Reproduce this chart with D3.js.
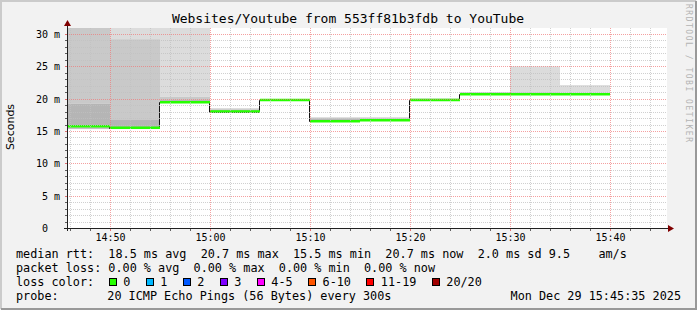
<!DOCTYPE html>
<html>
<head>
<meta charset="utf-8">
<script src="https://cdn.jsdelivr.net/npm/d3@7"></script>
<style>
  html, body { margin: 0; padding: 0; background: #f2f2f2; }
  svg { display: block; }
  svg text { font-family: "DejaVu Sans Mono", monospace; white-space: pre; fill: #000; }
</style>
</head>
<body>
<div id="canvas"></div>
<script>
  // step end times, 5 minute steps
  var stepEnds = ["14:50","14:55","15:00","15:05","15:10","15:15","15:20","15:25","15:30","15:35","15:40"];

  // median rtt per step (ms)
  var median = [15.75, 15.5, 19.45, 18.0, 19.8, 16.5, 16.65, 19.8, 20.7, 20.7, 20.7];

  // smoke bands [low, high] in ms, darkest to lightest (null = none)
  var smokeLow   = [[15.3, 15.75], null, null, null, null, null, null, null, null, null, null];
  var smokeDark  = [[15.75, 19.2], [15.5, 16.7], [19.45, 19.9], [18.0, 18.3], [19.8, 19.95],
                    [16.5, 16.85], [16.65, 16.9], [19.8, 20.0], [20.7, 20.9], [20.7, 20.95], [20.7, 20.8]];
  var smokeMid   = [[19.2, 31], [16.7, 29.2], [19.9, 20.3], [18.3, 18.5], null,
                    [16.85, 17.1], [16.9, 17.1], null, [20.9, 21.0], null, null];
  var smokeLight = [null, [29.2, 31], [20.3, 31], null, null, null, null, null, null, [20.95, 25.0], [20.8, 22.1]];

  // axis ticks
  var yTicks = [0, 5, 10, 15, 20, 25, 30];
  var xTicks = ["14:50","15:00","15:10","15:20","15:30","15:40"];

  // legend
  var rttLine   = "median rtt:  18.5 ms avg  20.7 ms max  15.5 ms min  20.7 ms now  2.0 ms sd 9.5    am/s";
  var lossLine  = "packet loss: 0.00 % avg  0.00 % max  0.00 % min  0.00 % now";
  var lossLabels = ["0", "1", "2", "3", "4-5", "6-10", "11-19", "20/20"];
  var lossColors = ["#26ff00", "#00b8ff", "#0059ff", "#7e00ff", "#ff00ff", "#ff5500", "#ff0000", "#a10000"];
  var probeText = "20 ICMP Echo Pings (56 Bytes) every 300s";
  var stampText = "Mon Dec 29 15:45:35 2025";

  var W = 697, H = 310;
  var day = "2025-12-29 ";
  var parseT = d3.timeParse("%Y-%m-%d %H:%M:%S");
  var parseM = function(s) { return parseT(day + s + ":00"); };

  var x = d3.scaleTime()
    .domain([parseT(day + "14:45:42"), parseT(day + "15:45:42")])
    .range([67, 667]);
  var y = d3.scaleLinear().domain([0, 30.93]).range([228, 28]);

  var svg = d3.select("#canvas").append("svg")
    .attr("width", W)
    .attr("height", H);

  // background + frame
  svg.append("rect").attr("width", W).attr("height", H).attr("fill", "#f2f2f2");
  svg.append("path").attr("d", "M1,309 V1 H696").attr("fill", "none")
    .attr("stroke", "#cbcbcb").attr("stroke-width", 2);
  svg.append("path").attr("d", "M1,309 H696 V1").attr("fill", "none")
    .attr("stroke", "#999999").attr("stroke-width", 2);

  // plot canvas
  var x0 = x.range()[0], x1 = x.range()[1], yb = y.range()[0], yt = y.range()[1];
  svg.append("rect")
    .attr("x", x0).attr("y", yt)
    .attr("width", x1 - x0).attr("height", yb - yt)
    .attr("fill", "#ffffff");

  svg.append("clipPath").attr("id", "plotclip")
    .append("rect").attr("x", x0).attr("y", yt).attr("width", x1 - x0).attr("height", yb - yt);

  var steps = stepEnds.map(function(s, i) {
    var end = parseM(s);
    var start = d3.timeMinute.offset(end, -5);
    if (start < x.domain()[0]) start = x.domain()[0];
    return { i: i, start: start, end: end };
  });

  // smoke
  var plot = svg.append("g").attr("clip-path", "url(#plotclip)");
  function drawSmoke(bands, color) {
    plot.selectAll(null)
      .data(steps.filter(function(d) { return bands[d.i]; }))
      .enter().append("rect")
        .attr("x", function(d) { return x(d.start); })
        .attr("width", function(d) { return x(d.end) - x(d.start); })
        .attr("y", function(d) { return y(bands[d.i][1]); })
        .attr("height", function(d) { return y(bands[d.i][0]) - y(bands[d.i][1]); })
        .attr("fill", color);
  }
  drawSmoke(smokeLight, "#dcdcdc");
  drawSmoke(smokeMid, "#c9c9c9");
  drawSmoke(smokeDark, "#b5b5b5");
  drawSmoke(smokeLow, "#c2c2c2");

  // grid
  var grid = svg.append("g").attr("shape-rendering", "crispEdges");
  var minorY = d3.range(1, 31).filter(function(v) { return v % 5 !== 0; });
  var majorY = yTicks.filter(function(v) { return v > 0; });
  var minorX = d3.timeMinute.every(2).range(x.domain()[0], x.domain()[1])
    .filter(function(d) { return d.getMinutes() % 10 !== 0; });
  var majorX = xTicks.map(parseM);

  grid.selectAll(".hminor").data(minorY).enter().append("line")
    .attr("x1", x0).attr("x2", x1)
    .attr("y1", function(d) { return Math.round(y(d)) + 0.5; })
    .attr("y2", function(d) { return Math.round(y(d)) + 0.5; })
    .attr("stroke", "rgba(192,192,192,0.75)").attr("stroke-dasharray", "1,1");
  grid.selectAll(".vminor").data(minorX).enter().append("line")
    .attr("y1", yt).attr("y2", yb)
    .attr("x1", function(d) { return Math.round(x(d)) + 0.5; })
    .attr("x2", function(d) { return Math.round(x(d)) + 0.5; })
    .attr("stroke", "rgba(192,192,192,0.75)").attr("stroke-dasharray", "1,1");
  grid.selectAll(".hmajor").data(majorY).enter().append("line")
    .attr("x1", x0).attr("x2", x1)
    .attr("y1", function(d) { return Math.round(y(d)) + 0.5; })
    .attr("y2", function(d) { return Math.round(y(d)) + 0.5; })
    .attr("stroke", "rgba(240,120,120,0.7)").attr("stroke-dasharray", "1,1");
  grid.selectAll(".vmajor").data(majorX).enter().append("line")
    .attr("y1", yt).attr("y2", yb)
    .attr("x1", function(d) { return Math.round(x(d)) + 0.5; })
    .attr("x2", function(d) { return Math.round(x(d)) + 0.5; })
    .attr("stroke", "rgba(240,120,120,0.7)").attr("stroke-dasharray", "1,1");

  // median step line (dark) then loss coloured horizontals
  var stepPts = [];
  steps.forEach(function(d) {
    stepPts.push([Math.round(x(d.start)) - 0.5, Math.round(y(median[d.i])) + 0.5]);
    stepPts.push([Math.round(x(d.end)) - 0.5, Math.round(y(median[d.i])) + 0.5]);
  });
  plot.append("path")
    .attr("d", d3.line()(stepPts))
    .attr("fill", "none").attr("stroke", "#111111").attr("stroke-width", 1);
  plot.selectAll(".med").data(steps).enter().append("line")
    .attr("x1", function(d) { return x(d.start); })
    .attr("x2", function(d) { return x(d.end); })
    .attr("y1", function(d) { return y(median[d.i]); })
    .attr("y2", function(d) { return y(median[d.i]); })
    .attr("stroke", lossColors[0]).attr("stroke-width", 2.5);

  // axes
  var ax = svg.append("g").attr("shape-rendering", "crispEdges");
  ax.append("line").attr("x1", x0 - 3).attr("x2", x1 + 1).attr("y1", yb + 0.5).attr("y2", yb + 0.5)
    .attr("stroke", "#202020");
  ax.append("line").attr("x1", x0 + 0.5).attr("x2", x0 + 0.5).attr("y1", yb + 3).attr("y2", yt - 2)
    .attr("stroke", "#202020");
  // small ticks
  ax.selectAll(".yt").data(minorY.concat(majorY)).enter().append("line")
    .attr("x1", x0 - 2).attr("x2", x0)
    .attr("y1", function(d) { return Math.round(y(d)) + 0.5; })
    .attr("y2", function(d) { return Math.round(y(d)) + 0.5; })
    .attr("stroke", function(d) { return d % 5 === 0 ? "#e07070" : "#606060"; });
  ax.selectAll(".xt").data(minorX.concat(majorX)).enter().append("line")
    .attr("y1", yb + 1).attr("y2", yb + 3)
    .attr("x1", function(d) { return Math.round(x(d)) + 0.5; })
    .attr("x2", function(d) { return Math.round(x(d)) + 0.5; })
    .attr("stroke", function(d) { return d.getMinutes() % 10 === 0 ? "#e07070" : "#606060"; });
  // arrows
  svg.append("path").attr("d", "M" + (x0 - 3) + "," + (yt - 2) + " L" + (x0 + 4) + "," + (yt - 2) + " L" + (x0 + 0.5) + "," + (yt - 8) + "Z")
    .attr("fill", "#800000");
  svg.append("path").attr("d", "M" + (x1 + 1) + "," + (yb - 3) + " L" + (x1 + 1) + "," + (yb + 4) + " L" + (x1 + 7) + "," + (yb + 0.5) + "Z")
    .attr("fill", "#800000");

  // tick labels
  var yAxis = d3.axisLeft(y).tickValues(yTicks).tickSize(0).tickPadding(0)
    .tickFormat(function(d) { return d === 0 ? "0  " : d + " m"; });
  var gy = svg.append("g").attr("transform", "translate(" + (x0 - 7) + ",0)").call(yAxis);
  gy.select(".domain").remove();
  gy.selectAll("text").attr("font-family", "DejaVu Sans Mono").attr("font-size", "10px")
    .attr("dy", "0.35em").style("fill", "#000");

  var xAxis = d3.axisBottom(x).tickValues(majorX).tickSize(0).tickPadding(0)
    .tickFormat(d3.timeFormat("%H:%M"));
  var gx = svg.append("g").attr("transform", "translate(0," + (yb + 13) + ")").call(xAxis);
  gx.select(".domain").remove();
  gx.selectAll("text").attr("font-family", "DejaVu Sans Mono").attr("font-size", "10px")
    .attr("dy", "0").style("fill", "#000");

  // title
  svg.append("text")
    .attr("x", 348).attr("y", 23)
    .attr("text-anchor", "middle")
    .attr("font-size", "13px")
    .text("Websites/Youtube from 553ff81b3fdb to YouTube");

  // y label
  svg.append("text")
    .attr("transform", "translate(14,127) rotate(-90)")
    .attr("text-anchor", "middle")
    .style("font-family", "'DejaVu Sans', sans-serif")
    .attr("font-size", "11px")
    .text("Seconds");

  // watermark
  svg.append("text")
    .attr("transform", "translate(686,4) rotate(90)")
    .attr("font-size", "8px")
    .attr("textLength", 138)
    .style("fill", "#b4b4b4")
    .text("RRDTOOL / TOBI OETIKER");

  // legend
  var lg = svg.append("g").attr("font-size", "11.8px");
  lg.append("text").attr("x", 16).attr("y", 258).text(rttLine);
  lg.append("text").attr("x", 16).attr("y", 272).text(lossLine);
  lg.append("text").attr("x", 16).attr("y", 286).text("loss color:");
  var cx = 108.7;
  lossLabels.forEach(function(lab, i) {
    lg.append("rect")
      .attr("x", Math.round(cx) + 0.5).attr("y", 278.5)
      .attr("width", 7).attr("height", 7)
      .attr("fill", lossColors[i]).attr("stroke", "#000");
    var t = lg.append("text").attr("x", cx + 14.6).attr("y", 286).text(lab);
    cx = cx + 14.6 + t.node().getComputedTextLength() + 15.3;
  });
  lg.append("text").attr("x", 16).attr("y", 300).text("probe:");
  lg.append("text").attr("x", 107.3).attr("y", 300).text(probeText);
  lg.append("text").attr("x", 681).attr("y", 300).attr("text-anchor", "end").text(stampText);
</script>
</body>
</html>
